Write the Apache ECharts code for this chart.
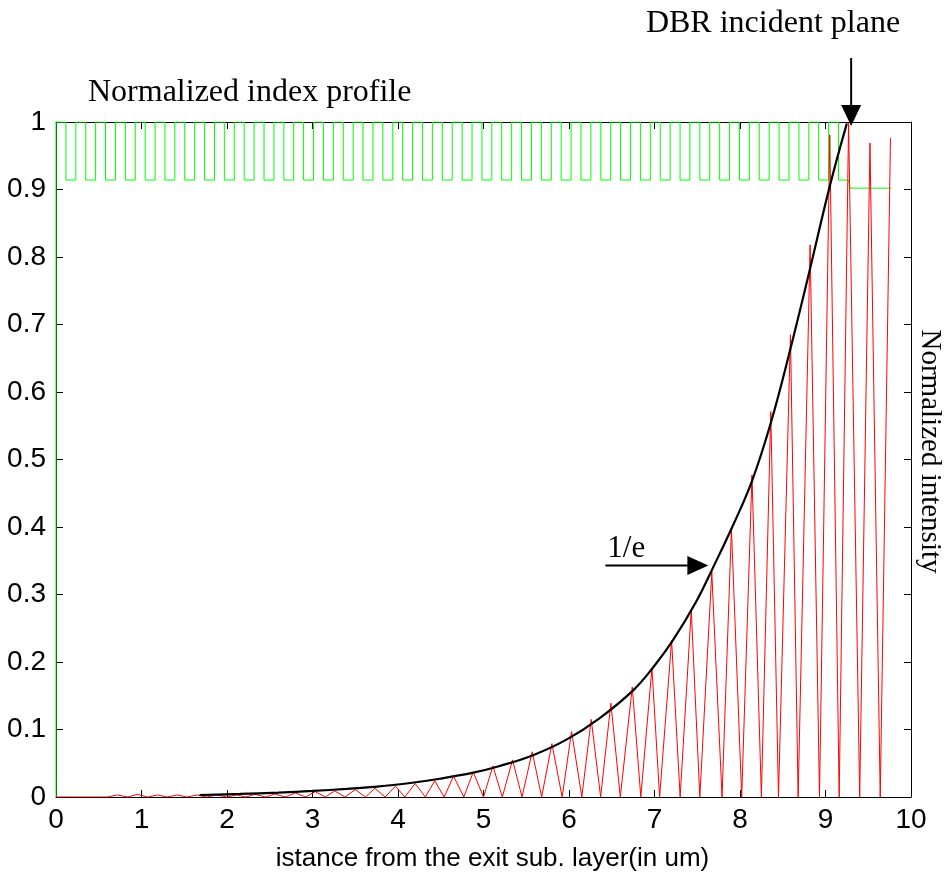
<!DOCTYPE html>
<html>
<head>
<meta charset="utf-8">
<script src="https://cdn.jsdelivr.net/npm/echarts@6/dist/echarts.min.js"></script>
<style>
  html, body { margin: 0; padding: 0; background: #fff; }
  #chart { width: 951px; height: 874px; }
</style>
</head>
<body>
<div id="chart"></div>
<script>
// layer boundaries of the DBR (um), high / low index layers alternate
var layerEdges = [0, 0.116, 0.232, 0.348, 0.463, 0.579, 0.695, 0.811, 0.927, 1.043,
  1.159, 1.274, 1.390, 1.506, 1.622, 1.738, 1.854, 1.969, 2.085, 2.201,
  2.317, 2.433, 2.549, 2.665, 2.780, 2.896, 3.012, 3.128, 3.244, 3.360,
  3.476, 3.591, 3.707, 3.823, 3.939, 4.055, 4.171, 4.286, 4.402, 4.518,
  4.634, 4.750, 4.866, 4.982, 5.097, 5.213, 5.329, 5.445, 5.561, 5.677,
  5.793, 5.908, 6.024, 6.140, 6.256, 6.372, 6.488, 6.603, 6.719, 6.835,
  6.951, 7.067, 7.183, 7.299, 7.414, 7.530, 7.646, 7.762, 7.878, 7.994,
  8.110, 8.225, 8.341, 8.457, 8.573, 8.689, 8.805, 8.920, 9.036, 9.152, 9.268];
var nHigh = 1, nLow = 0.914, nCap = 0.902, capEnd = 9.77;

// standing wave intensity: peaks and zeros
var peakX = [0.72, 0.95, 1.19, 1.42, 1.65, 1.88, 2.11, 2.33, 2.56, 2.80,
  3.03, 3.26, 3.50, 3.73, 3.97, 4.20, 4.43, 4.65, 4.88, 5.11,
  5.34, 5.57, 5.80, 6.03, 6.26, 6.49, 6.74, 6.97, 7.20, 7.43,
  7.67, 7.90, 8.14, 8.36, 8.59, 8.82, 9.05, 9.27, 9.52, 9.76];
var peakY = [0.003, 0.004, 0.003, 0.003, 0.003, 0.003, 0.003, 0.004, 0.0045, 0.006,
  0.008, 0.009, 0.011, 0.013, 0.016, 0.020, 0.024, 0.031, 0.037, 0.046,
  0.055, 0.067, 0.079, 0.097, 0.115, 0.139, 0.163, 0.191, 0.232, 0.277,
  0.333, 0.398, 0.477, 0.571, 0.685, 0.818, 0.981, 0.998, 0.969, 0.976];
var zeroX = [0.84, 1.07, 1.30, 1.53, 1.76, 2.00, 2.22, 2.45, 2.68, 2.92,
  3.15, 3.38, 3.62, 3.85, 4.08, 4.32, 4.54, 4.77, 5.00, 5.22,
  5.45, 5.68, 5.92, 6.15, 6.37, 6.60, 6.84, 7.06, 7.30, 7.53,
  7.79, 8.02, 8.25, 8.45, 8.68, 8.93, 9.16, 9.40, 9.64];
var flatEnd = 0.60;

// exponential envelope
var envX = [1.68, 2.15, 2.6, 3.0, 3.4, 3.71, 4.10, 4.49, 4.88, 5.19, 5.58, 5.97,
  6.36, 6.75, 6.99, 7.22, 7.49, 7.67, 7.92, 8.14, 8.36, 8.59, 8.82, 9.05, 9.25];
var envY = [0.003, 0.0045, 0.0065, 0.009, 0.012, 0.015, 0.020, 0.027, 0.036, 0.046, 0.062, 0.085,
  0.117, 0.158, 0.193, 0.233, 0.290, 0.336, 0.403, 0.468, 0.554, 0.664, 0.783, 0.905, 0.998];

var serif = '"Liberation Serif", "Times New Roman", serif';
var sans = '"Liberation Sans", Arial, sans-serif';

// build series
var indexData = [[0, 0]];
for (var i = 0; i < layerEdges.length - 1; i++) {
  var lv = i % 2 === 0 ? nHigh : nLow;
  indexData.push([layerEdges[i], lv], [layerEdges[i + 1], lv]);
}
indexData.push([layerEdges[layerEdges.length - 1] + 0.02, nCap], [capEnd, nCap]);

var waveData = [[0, 0], [flatEnd, 0]];
for (var j = 0; j < peakX.length; j++) {
  waveData.push([peakX[j], peakY[j]]);
  if (j < zeroX.length) waveData.push([zeroX[j], 0]);
}

var envData = envX.map(function (x, k) { return [x, envY[k]]; });

var axisCommon = {
  type: 'value', min: 0, max: 10, interval: 1,
  axisLine: { onZero: false, lineStyle: { color: '#000', width: 1 } },
  axisTick: { inside: true, length: 7, lineStyle: { color: '#000' } },
  splitLine: { show: false }
};

var chart = echarts.init(document.getElementById('chart'));
chart.setOption({
  animation: false,
  backgroundColor: '#fff',
  grid: { left: 56, right: 40, top: 122, bottom: 77, containLabel: false, outerBoundsMode: 'none' },
  xAxis: [
    Object.assign({}, axisCommon, {
      position: 'bottom',
      axisLabel: { color: '#000', fontFamily: sans, fontSize: 28, margin: 9 },
      name: 'istance from the exit sub. layer(in um)',
      nameLocation: 'middle', nameGap: 49,
      nameTextStyle: { color: '#000', fontFamily: sans, fontSize: 26, padding: [0, 0, 0, 18] }
    }),
    Object.assign({}, axisCommon, { position: 'top', axisLabel: { show: false } })
  ],
  yAxis: [
    Object.assign({}, axisCommon, {
      min: 0, max: 1, interval: 0.1, position: 'left',
      axisLabel: { color: '#000', fontFamily: sans, fontSize: 28, margin: 10 }
    }),
    Object.assign({}, axisCommon, {
      min: 0, max: 1, interval: 0.1, position: 'right',
      axisLabel: { show: false },
      name: 'Normalized intensity', nameLocation: 'middle', nameRotate: -90, nameGap: 4,
      nameTextStyle: { color: '#000', fontFamily: serif, fontSize: 29, padding: [0, 16, 0, 0] }
    })
  ],
  series: [
    { type: 'line', name: 'index', data: indexData, showSymbol: false, symbol: 'none',
      lineStyle: { color: '#00ff00', width: 1 }, z: 2 },
    { type: 'line', name: 'intensity', data: waveData, showSymbol: false, symbol: 'none',
      lineStyle: { color: '#ff0000', width: 1 }, z: 3 },
    { type: 'line', name: 'envelope', data: envData, showSymbol: false, symbol: 'none', smooth: 0.4,
      lineStyle: { color: '#000', width: 2.2 }, z: 4 }
  ]
});

// annotations placed through the axes
function px(p) { return chart.convertToPixel({ gridIndex: 0 }, p); }
var dbrTip = px([9.30, 0.994]);
var eTip = px([7.63, 0.343]);

chart.setOption({
  graphic: [
    { type: 'text', x: 88, y: 109,
      style: { text: 'Normalized index profile', font: '32px ' + serif, fill: '#000', verticalAlign: 'bottom' } },
    { type: 'text', x: 773, y: 40,
      style: { text: 'DBR incident plane', font: '32px ' + serif, fill: '#000', align: 'center', verticalAlign: 'bottom' } },
    { type: 'line', shape: { x1: dbrTip[0], y1: 58, x2: dbrTip[0], y2: dbrTip[1] - 18 },
      style: { stroke: '#000', lineWidth: 2 } },
    { type: 'polygon', shape: { points: [[dbrTip[0] - 10, dbrTip[1] - 21], [dbrTip[0] + 10, dbrTip[1] - 21], [dbrTip[0], dbrTip[1]]] },
      style: { fill: '#000' } },
    { type: 'text', x: eTip[0] - 101, y: eTip[1] - 1,
      style: { text: '1/e', font: '31px ' + serif, fill: '#000', verticalAlign: 'bottom' } },
    { type: 'line', shape: { x1: eTip[0] - 103, y1: eTip[1], x2: eTip[0] - 18, y2: eTip[1] },
      style: { stroke: '#000', lineWidth: 2 } },
    { type: 'polygon', shape: { points: [[eTip[0] - 21, eTip[1] - 9.5], [eTip[0] - 21, eTip[1] + 9.5], [eTip[0], eTip[1]]] },
      style: { fill: '#000' } }
  ]
});
</script>
</body>
</html>
